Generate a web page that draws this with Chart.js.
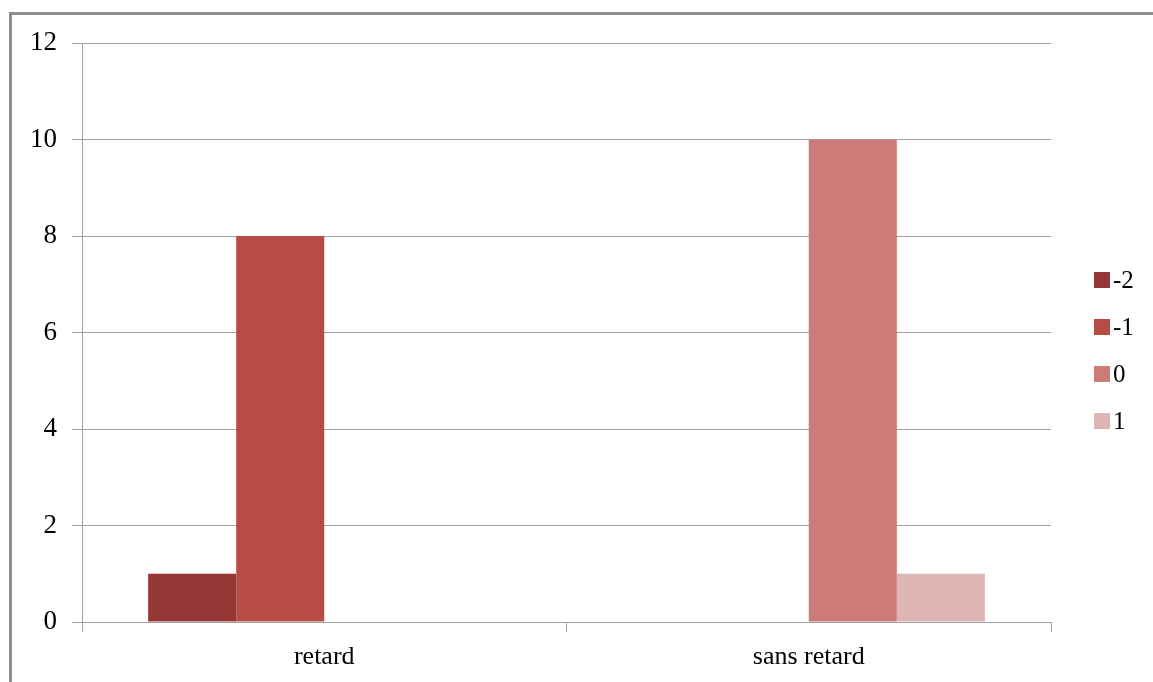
<!DOCTYPE html>
<html lang="fr">
<head>
    <meta charset="UTF-8">
    <title>retard / sans retard</title>
    <script src="https://cdn.jsdelivr.net/npm/chart.js"></script>
    <style>
        html, body { margin: 0; padding: 0; background: #fff; overflow: hidden; }
        .frame {
            position: absolute; left: 9px; top: 12px;
            width: 1200px; height: 720px;
            border: 3px solid #8e8e8e;
        }
        .chart-box { position: absolute; left: 0; top: 0; width: 1153px; height: 682px; }
    </style>
</head>
<body>
    <div class="frame"></div>
    <div class="chart-box">
        <canvas id="chart" width="1153" height="682"></canvas>
    </div>

    <script>
        // categories and series
        const categories = ['retard', 'sans retard'];
        const seriesNames = ['-2', '-1', '0', '1'];
        const seriesM2 = [1, 0];
        const seriesM1 = [8, 0];
        const series0 = [0, 10];
        const series1 = [0, 1];
        const yTicks = [0, 2, 4, 6, 8, 10, 12];

        const colors = ['#953735', '#b84c44', '#cc7b79', '#ddb5b4'];
        const gridColor = '#a3a3a3';
        const serif = '"Liberation Serif", "DejaVu Serif", serif';

        const values = [seriesM2, seriesM1, series0, series1];
        const datasets = seriesNames.map((name, i) => ({
            label: name,
            data: values[i],
            backgroundColor: colors[i],
            borderWidth: 0,
            categoryPercentage: 0.727,
            barPercentage: 1.0
        }));

        // legend on the right, drawn like the Excel one
        const sideLegend = {
            id: 'sideLegend',
            afterDraw(chart) {
                const ctx = chart.ctx;
                const area = chart.chartArea;
                const x = area.right + 43;
                const y0 = area.top + 237;
                ctx.save();
                ctx.font = '25px ' + serif;
                ctx.textBaseline = 'middle';
                ctx.textAlign = 'left';
                chart.data.datasets.forEach((ds, i) => {
                    const y = y0 + i * 47;
                    ctx.fillStyle = ds.backgroundColor;
                    ctx.fillRect(x, y - 8, 16, 16);
                    ctx.fillStyle = '#000';
                    ctx.fillText(ds.label, x + 19, y + 1);
                });
                ctx.restore();
            }
        };

        new Chart(document.getElementById('chart'), {
            type: 'bar',
            data: { labels: categories, datasets: datasets },
            plugins: [sideLegend],
            options: {
                responsive: false,
                animation: false,
                layout: { padding: { left: 0, top: 43, right: 102, bottom: 0 } },
                plugins: {
                    legend: { display: false },
                    tooltip: { enabled: false }
                },
                scales: {
                    x: {
                        afterFit(scale) { scale.height = 60; },
                        grid: {
                            offset: true,
                            drawOnChartArea: false,
                            drawTicks: true,
                            tickLength: 10,
                            color: gridColor
                        },
                        border: { color: gridColor, width: 1 },
                        ticks: {
                            color: '#000',
                            padding: 10,
                            font: { family: serif, size: 26 }
                        }
                    },
                    y: {
                        min: 0,
                        max: 12,
                        afterBuildTicks(scale) {
                            scale.ticks = yTicks.map(v => ({ value: v }));
                        },
                        afterFit(scale) { scale.width = 82; },
                        grid: {
                            color: gridColor,
                            tickLength: 10,
                            drawTicks: true
                        },
                        border: { color: gridColor, width: 1 },
                        ticks: {
                            color: '#000',
                            padding: 15,
                            font: { family: serif, size: 27 }
                        }
                    }
                }
            }
        });
    </script>
</body>
</html>
